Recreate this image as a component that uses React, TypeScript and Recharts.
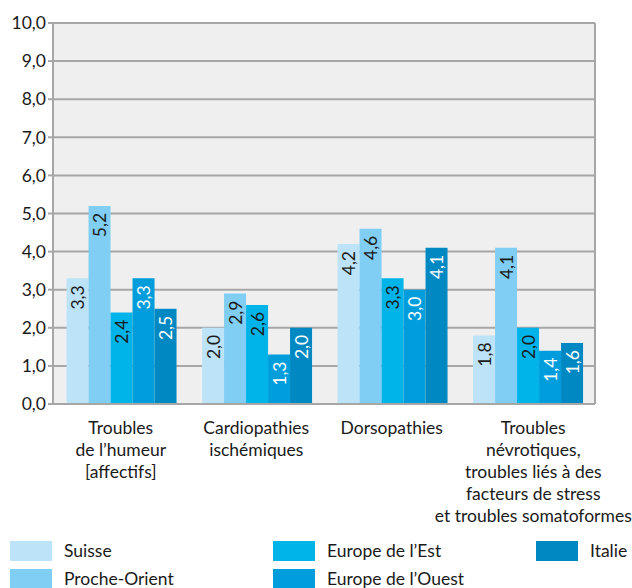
import { BarChart, Bar, XAxis, YAxis, CartesianGrid, LabelList } from "recharts";

const categories = [
  ["Troubles", "de l’humeur", "[affectifs]"],
  ["Cardiopathies", "ischémiques"],
  ["Dorsopathies"],
  ["Troubles", "névrotiques,", "troubles liés à des", "facteurs de stress", "et troubles somatoformes"],
];

const suisse = [3.3, 2.0, 4.2, 1.8];
const procheOrient = [5.2, 2.9, 4.6, 4.1];
const europeEst = [2.4, 2.6, 3.3, 2.0];
const europeOuest = [3.3, 1.3, 3.0, 1.4];
const italie = [2.5, 2.0, 4.1, 1.6];

const yTicks = [0, 1, 2, 3, 4, 5, 6, 7, 8, 9, 10];

const series = [
  { key: "suisse", name: "Suisse", values: suisse, color: "#bde3f8", label: "#1a1a1a" },
  { key: "procheOrient", name: "Proche-Orient", values: procheOrient, color: "#80cef4", label: "#1a1a1a" },
  { key: "europeEst", name: "Europe de l’Est", values: europeEst, color: "#00b4ea", label: "#1a1a1a" },
  { key: "europeOuest", name: "Europe de l’Ouest", values: europeOuest, color: "#009ddd", label: "#ffffff" },
  { key: "italie", name: "Italie", values: italie, color: "#0088c2", label: "#ffffff" },
];

const data = categories.map((lines, i) => {
  const row: Record<string, any> = { name: lines.join(" "), idx: i };
  series.forEach((s) => (row[s.key] = s.values[i]));
  return row;
});

const FONT = "Lato, sans-serif";
const FS = 17.5;
const fmt = (v: number) => v.toFixed(1).replace(".", ",");

// the last category label is nudged right in the original so it fits the frame
const tickShift = [0, 0, 0, 6];

const XTick = (props: any) => {
  const { x, y, payload } = props;
  const lines = categories[payload.index] || [];
  return (
    <g transform={`translate(${x + (tickShift[payload.index] || 0)},${y})`}>
      {lines.map((l, i) => (
        <text key={i} x={0} y={22 + i * 22} textAnchor="middle" fontSize={FS} fill="#1a1a1a" fontFamily={FONT}>
          {l}
        </text>
      ))}
    </g>
  );
};

const makeLabel = (color: string) => (props: any) => {
  const { x, y, width, value } = props;
  const cx = x + width / 2;
  const ty = y + 7;
  return (
    <text
      transform={`translate(${cx},${ty}) rotate(-90)`}
      textAnchor="end"
      dominantBaseline="central"
      fontSize={FS}
      fill={color}
      fontFamily={FONT}
    >
      {fmt(value)}
    </text>
  );
};

const legendCols = [
  [series[0], series[1]],
  [series[2], series[3]],
  [series[4]],
];

export default function App() {
  return (
    <div style={{ position: "absolute", left: 0, top: 0, width: 632, height: 588, background: "#fff", fontFamily: FONT, overflow: "hidden" }}>
      <BarChart
        width={632}
        height={530}
        data={data}
        margin={{ top: 23, right: 36, bottom: 0, left: 6 }}
        barCategoryGap="10%"
        barGap={0}
      >
        <CartesianGrid vertical={false} stroke="#a6a6a6" strokeWidth={2} fill="#efefef" />
        <XAxis
          dataKey="name"
          height={126}
          tick={<XTick />}
          tickLine={false}
          axisLine={{ stroke: "#a6a6a6", strokeWidth: 2 }}
          interval={0}
        />
        <YAxis
          width={47}
          domain={[0, 10]}
          ticks={yTicks}
          tickFormatter={fmt}
          tick={{ fontSize: FS, fill: "#1a1a1a", fontFamily: FONT }}
          tickLine={{ stroke: "#a6a6a6", strokeWidth: 2 }}
          tickSize={5}
          axisLine={{ stroke: "#a6a6a6", strokeWidth: 2 }}
        />
        <YAxis
          yAxisId="r"
          orientation="right"
          width={1}
          domain={[0, 10]}
          tick={false}
          tickLine={false}
          axisLine={{ stroke: "#a6a6a6", strokeWidth: 2 }}
        />
        {series.map((s) => (
          <Bar key={s.key} dataKey={s.key} name={s.name} fill={s.color} isAnimationActive={false}>
            <LabelList dataKey={s.key} content={makeLabel(s.label)} />
          </Bar>
        ))}
      </BarChart>
      <div style={{ position: "absolute", top: 541, left: 0, width: 632 }}>
        {legendCols.map((col, ci) => (
          <div key={ci} style={{ position: "absolute", left: 10 + ci * 263, top: 0 }}>
            {col.map((s, ri) => (
              <div key={s.key} style={{ position: "absolute", top: ri * 28, left: 0, display: "flex", alignItems: "center", whiteSpace: "nowrap" }}>
                <div style={{ width: 42, height: 20, background: s.color }} />
                <span style={{ marginLeft: 12, fontSize: FS, color: "#1a1a1a", lineHeight: "20px" }}>{s.name}</span>
              </div>
            ))}
          </div>
        ))}
      </div>
    </div>
  );
}
